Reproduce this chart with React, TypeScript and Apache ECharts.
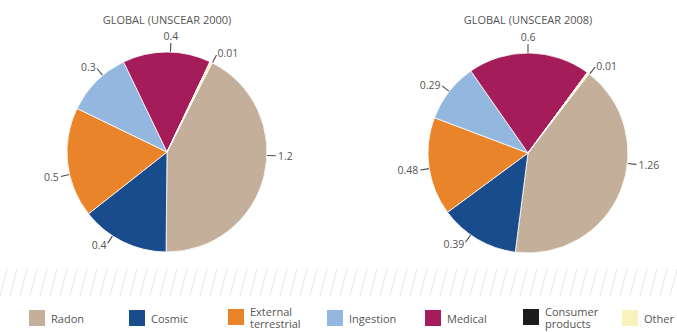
import React, { useEffect, useRef } from "react";
import * as echarts from "echarts";

const categories = ["Radon", "Cosmic", "External terrestrial", "Ingestion", "Medical", "Consumer products", "Other"];
const legendLabels = ["Radon", "Cosmic", "External\nterrestrial", "Ingestion", "Medical", "Consumer\nproducts", "Other"];
const values2000 = [1.2, 0.4, 0.5, 0.3, 0.4, 0, 0.01];
const values2008 = [1.26, 0.39, 0.48, 0.29, 0.6, 0, 0.01];
const titles = ["GLOBAL (UNSCEAR 2000)", "GLOBAL (UNSCEAR 2008)"];
const colors = ["#c4b09a", "#194c8c", "#e9842a", "#93b7df", "#a51c5b", "#1c1c1c", "#f8f3bc"];

// layout only: where each leader line leaves the pie (degrees clockwise from 12 o'clock)
const labelAngles2000 = [92, 213, 257, 320, 2, 0, 27];
const labelAngles2008 = [96, 215, 261, 308, 0, 0, 38];
const centers: [number, number][] = [[167, 152], [528, 153]];
const RADIUS = 100;
const legendLeft = [27, 127, 226, 325, 423, 521, 620];
const FONT = "'Open Sans', 'Noto Sans', sans-serif";

export default function App() {
  const ref = useRef<HTMLDivElement>(null);
  useEffect(() => {
    document.body.style.margin = "0";
    const chart = echarts.init(ref.current!, null, { renderer: "svg" });

    const makeData = (vals: number[]) =>
      categories.map((name, i) => {
        const item: any = { name, value: vals[i], itemStyle: { color: colors[i] } };
        if (vals[i] === 0) {
          item.label = { show: false };
          item.labelLine = { show: false };
        }
        return item;
      });

    const anglesBySeries = [labelAngles2000, labelAngles2008];

    const pieBase = (si: number, startAngle: number, vals: number[]) => ({
      type: "pie",
      center: centers[si],
      radius: RADIUS,
      startAngle,
      clockwise: true,
      avoidLabelOverlap: false,
      silent: true,
      itemStyle: { borderColor: "#ffffff", borderWidth: 0.8 },
      label: {
        show: true,
        position: "outside",
        formatter: "{c}",
        fontSize: 10.5,
        fontFamily: FONT,
        color: "#555555",
      },
      labelLine: { show: true, length: 8, length2: 0, lineStyle: { color: "#4a4a4a", width: 1.1 } },
      labelLayout: (params: any) => {
        const a = (anglesBySeries[si][params.dataIndex] * Math.PI) / 180;
        const [cx, cy] = centers[si];
        const sx = Math.sin(a);
        const cy2 = -Math.cos(a);
        const p0 = [cx + RADIUS * sx, cy + RADIUS * cy2];
        const p1 = [cx + (RADIUS + 9) * sx, cy + (RADIUS + 9) * cy2];
        const p2 = [cx + (RADIUS + 11) * sx, cy + (RADIUS + 11) * cy2];
        let align = "center";
        let verticalAlign = "middle";
        if (sx > 0.3) align = "left";
        else if (sx < -0.3) align = "right";
        else verticalAlign = cy2 < 0 ? "bottom" : "top";
        return { x: p2[0], y: p2[1], align, verticalAlign, labelLinePoints: [p0, p1, p1] };
      },
      data: makeData(vals),
    });

    // decorative hatch band
    const hatch: any[] = [];
    for (let x = -20; x < 700; x += 10) {
      hatch.push({
        type: "line",
        silent: true,
        shape: { x1: x, y1: 296, x2: x + 7, y2: 269 },
        style: { stroke: "#e6e6e6", lineWidth: 1 },
      });
    }

    chart.setOption({
      animation: false,
      backgroundColor: "#ffffff",
      title: titles.map((t, i) => ({
        text: t,
        left: centers[i][0],
        top: 14,
        padding: 0,
        textAlign: "center",
        textStyle: { fontSize: 11, fontWeight: "normal", color: "#555555", fontFamily: FONT },
      })),
      legend: categories.map((name, i) => {
        const twoLine = legendLabels[i].indexOf("\n") >= 0;
        return {
          data: [{ name, icon: "rect" }],
          left: legendLeft[i],
          top: twoLine ? 305 : 308,
          padding: 0,
          itemWidth: 18,
          itemHeight: 18,
          selectedMode: false,
          formatter: () => legendLabels[i],
          textStyle: { fontSize: 11, color: "#555555", fontFamily: FONT, lineHeight: 12 },
        };
      }),
      graphic: hatch,
      series: [pieBase(0, 63.2, values2000), pieBase(1, 52.4, values2008)],
    });
    return () => chart.dispose();
  }, []);
  return <div ref={ref} style={{ position: "absolute", left: 0, top: 0, width: 677, height: 332 }} />;
}
